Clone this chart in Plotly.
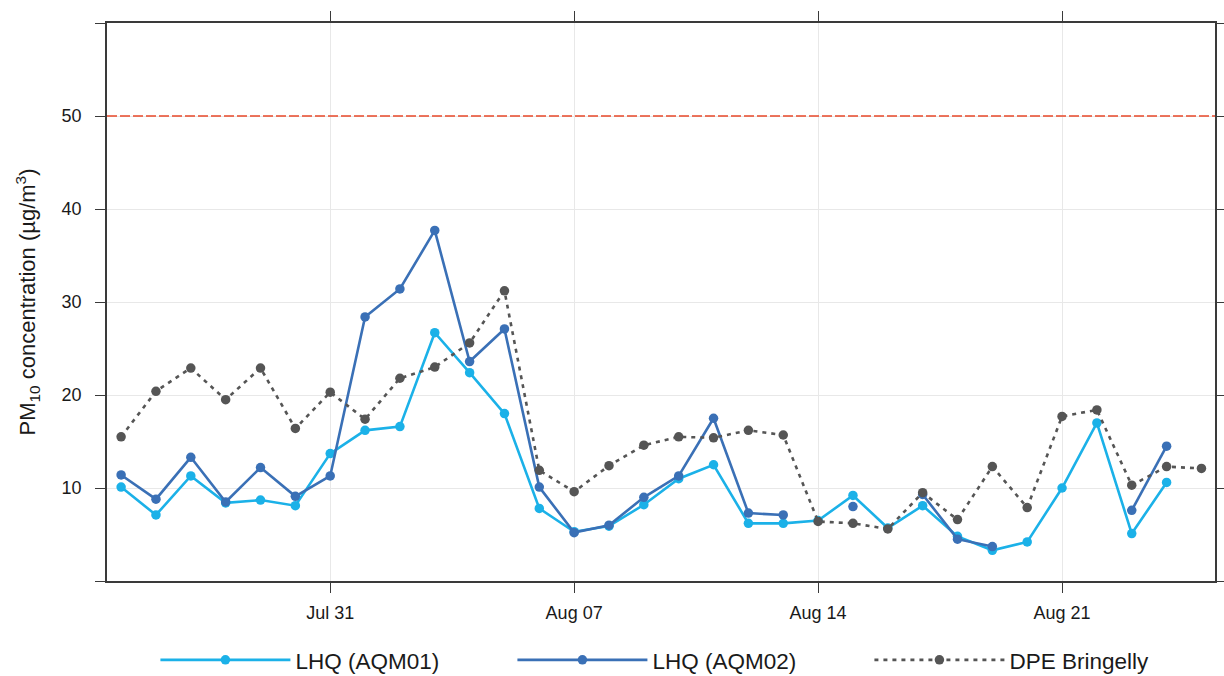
import pandas as pd
import plotly.graph_objects as go

# Daily mean PM10, 25 Jul - 25 Aug
dates = pd.date_range("2016-07-25", "2016-08-25", freq="D")

aqm01 = [10.1, 7.1, 11.3, 8.4, 8.7, 8.1, 13.7, 16.2, 16.6, 26.7, 22.4, 18.0,
         7.8, 5.3, 5.9, 8.2, 11.0, 12.5, 6.2, 6.2, 6.5, 9.2, 5.7, 8.1,
         4.8, 3.3, 4.2, 10.0, 17.0, 5.1, 10.6, None]

aqm02 = [11.4, 8.8, 13.3, 8.5, 12.2, 9.1, 11.3, 28.4, 31.4, 37.7, 23.6, 27.1,
         10.1, 5.2, 6.0, 9.0, 11.3, 17.5, 7.3, 7.1, None, 8.0, None, 9.3,
         4.5, 3.7, None, None, None, 7.6, 14.5, None]

dpe = [15.5, 20.4, 22.9, 19.5, 22.9, 16.4, 20.3, 17.4, 21.8, 23.0, 25.6, 31.2,
       11.9, 9.6, 12.4, 14.6, 15.5, 15.4, 16.2, 15.7, 6.4, 6.2, 5.6, 9.5,
       6.6, 12.3, 7.9, 17.7, 18.4, 10.3, 12.3, 12.1]

series_names = ["LHQ (AQM01)", "LHQ (AQM02)", "DPE Bringelly"]
x_ticks = ["2016-07-31", "2016-08-07", "2016-08-14", "2016-08-21"]
y_ticks = [10, 20, 30, 40, 50]
limit_value = 50

FONT = "Liberation Sans, Arial, sans-serif"
AXIS_COLOR = "#3a3a3a"

fig = go.Figure()

fig.add_trace(go.Scatter(
    x=dates, y=aqm01, name=series_names[0], mode="lines+markers",
    line=dict(color="#1BB1E8", width=2.6),
    marker=dict(color="#1BB1E8", size=9.5),
))
fig.add_trace(go.Scatter(
    x=dates, y=aqm02, name=series_names[1], mode="lines+markers",
    line=dict(color="#3A70B6", width=2.6),
    marker=dict(color="#3A70B6", size=9.5),
))
fig.add_trace(go.Scatter(
    x=dates, y=dpe, name=series_names[2], mode="lines+markers",
    line=dict(color="#555555", width=2.6, dash="4px,5px"),
    marker=dict(color="#555555", size=9.5),
))

# Daily PM10 standard
fig.add_hline(y=limit_value, line_color="#E8482A", line_width=1.4,
              line_dash="10px,3px", layer="above")

x_start = pd.Timestamp("2016-07-24 14:17")
x_end = pd.Timestamp("2016-08-25 09:20")

axis_common = dict(
    showline=True, linecolor=AXIS_COLOR, linewidth=1.5, mirror="ticks",
    ticks="outside", ticklen=10, tickwidth=1.3, tickcolor=AXIS_COLOR,
    showgrid=True, gridcolor="#E8E8E8", gridwidth=1, zeroline=False,
    tickfont=dict(family=FONT, size=18, color="#1a1a1a"),
)

fig.update_xaxes(
    range=[x_start, x_end], tickvals=pd.to_datetime(x_ticks), tickformat="%b %d",
    ticklabelstandoff=5, **axis_common,
)
fig.update_yaxes(
    range=[0, 60], tickvals=y_ticks,
    minor=dict(tick0=0, dtick=60, ticks="outside", ticklen=10, tickwidth=1.3,
               tickcolor=AXIS_COLOR, showgrid=False),
    ticklabelstandoff=10,
    title=dict(text="PM<sub>10</sub> concentration (µg/m<sup>3</sup>)",
               font=dict(family=FONT, size=22, color="#1a1a1a"), standoff=20),
    **axis_common,
)

fig.update_layout(
    width=1224, height=676,
    margin=dict(l=107, r=9, t=23, b=95, autoexpand=False),
    paper_bgcolor="white", plot_bgcolor="white",
    font=dict(family=FONT, color="#1a1a1a"),
    legend=dict(
        orientation="h", x=0.527, xanchor="center", y=-0.142, yanchor="middle",
        font=dict(family=FONT, size=22.5, color="#1a1a1a"),
        entrywidth=212, itemwidth=130, bgcolor="rgba(0,0,0,0)",
    ),
)

fig.write_html("out.html")
